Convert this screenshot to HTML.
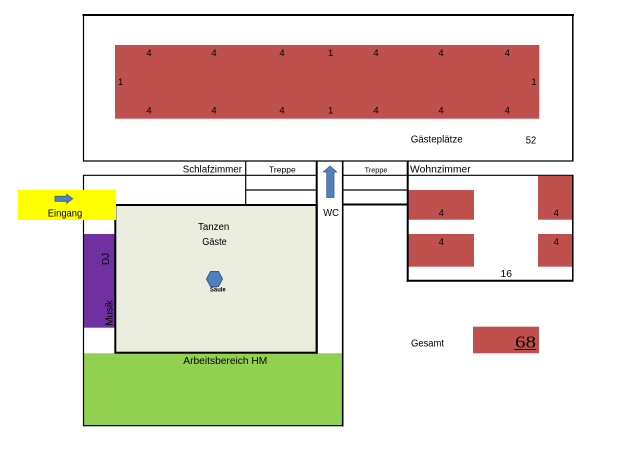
<!DOCTYPE html>
<html><head><meta charset="utf-8"><style>
html,body{margin:0;padding:0;background:#fff;}
svg{display:block;}
text{font-family:"Liberation Sans",sans-serif;fill:#000;}
</style></head><body>
<svg width="625" height="467" viewBox="0 0 625 467" xmlns="http://www.w3.org/2000/svg">
<rect x="0" y="0" width="625" height="467" fill="#fff"/>

<!-- fills -->
<rect x="115" y="45" width="424.3" height="73.7" fill="#c0504d"/>
<rect x="83.3" y="353.3" width="259.4" height="72.4" fill="#92d050"/>
<rect x="83.3" y="234" width="32" height="93.7" fill="#7030a0"/>
<rect x="115.3" y="205" width="201.4" height="147.7" fill="#ebeedf" stroke="#000" stroke-width="2"/>
<rect x="408.3" y="190" width="65.7" height="29.7" fill="#c0504d"/>
<rect x="408.3" y="234" width="65.7" height="32.7" fill="#c0504d"/>
<rect x="538" y="176" width="34.8" height="43.7" fill="#c0504d"/>
<rect x="538" y="234" width="34.8" height="32.7" fill="#c0504d"/>
<rect x="473" y="326.7" width="66" height="26.6" fill="#c0504d"/>

<!-- thin lines -->
<g stroke="#000" fill="none">
  <line x1="82.5" y1="15" x2="574" y2="15" stroke-width="2"/>
  <line x1="83.5" y1="14" x2="83.5" y2="161" stroke-width="1.2"/>
  <line x1="572.8" y1="14" x2="572.8" y2="161" stroke-width="1.5"/>
  <line x1="83" y1="161" x2="573.5" y2="161" stroke-width="1.2"/>
  <line x1="83" y1="175.3" x2="317" y2="175.3" stroke-width="1.2"/>
  <line x1="343" y1="175.3" x2="573.5" y2="175.3" stroke-width="1.2"/>
  <line x1="83.5" y1="175" x2="83.5" y2="426" stroke-width="1.2"/>
  <line x1="245.7" y1="161" x2="245.7" y2="205" stroke-width="1.2"/>
  <line x1="245.7" y1="190" x2="317" y2="190" stroke-width="1.2"/>
  <line x1="343" y1="190" x2="408" y2="190" stroke-width="1.2"/>
  <line x1="342.7" y1="161" x2="342.7" y2="426.5" stroke-width="1.6"/>
  <line x1="83" y1="425.6" x2="343.5" y2="425.6" stroke-width="1.3"/>
  <line x1="572.8" y1="175" x2="572.8" y2="281.5" stroke-width="1.5"/>
  <!-- thick -->
  <line x1="316.7" y1="161" x2="316.7" y2="353.7" stroke-width="2"/>
  <line x1="343" y1="204.5" x2="408.5" y2="204.5" stroke-width="2"/>
  <line x1="407.7" y1="161" x2="407.7" y2="281.7" stroke-width="2"/>
  <line x1="406.7" y1="280.7" x2="573.5" y2="280.7" stroke-width="2"/>
</g>

<!-- yellow entrance over line -->
<rect x="18" y="190" width="98" height="30" fill="#ffff00"/>
<polygon points="55,196.3 66.7,196.3 66.7,194.3 72.7,198.8 66.7,203.3 66.7,201.3 55,201.3" fill="#4f81bd" stroke="#385d8a" stroke-width="0.8"/>

<!-- WC arrow -->
<polygon points="330,166 336.7,172 334,172 334,197.5 326.7,197.5 326.7,172 323.3,172" fill="#4f81bd" stroke="#385d8a" stroke-width="0.8"/>

<!-- pillar -->
<polygon points="206.5,279 210.5,271.5 218.5,271.5 222.5,279 218.5,286.5 210.5,286.5" fill="#4f81bd" stroke="#385d8a" stroke-width="1"/>

<!-- top table numbers -->
<g font-size="9.5" text-anchor="middle">
  <text x="149" y="56">4</text>
  <text x="214" y="56">4</text>
  <text x="282" y="56">4</text>
  <text x="330.7" y="56">1</text>
  <text x="376" y="56">4</text>
  <text x="441" y="56">4</text>
  <text x="507.3" y="56">4</text>
  <text x="149" y="113.7">4</text>
  <text x="214" y="113.7">4</text>
  <text x="282" y="113.7">4</text>
  <text x="330.7" y="113.7">1</text>
  <text x="376" y="113.7">4</text>
  <text x="441" y="113.7">4</text>
  <text x="507.3" y="113.7">4</text>
  <text x="120.7" y="85">1</text>
  <text x="534" y="85">1</text>
  <text x="441.3" y="216">4</text>
  <text x="441.3" y="245">4</text>
  <text x="556.3" y="216">4</text>
  <text x="556.3" y="245">4</text>
</g>

<g font-size="10">
  <text x="410.7" y="142.7" textLength="52" lengthAdjust="spacingAndGlyphs">Gästeplätze</text>
  <text x="525.7" y="143.3" textLength="10.5" lengthAdjust="spacingAndGlyphs">52</text>
  <text x="182.7" y="172.3" textLength="59.3" lengthAdjust="spacingAndGlyphs">Schlafzimmer</text>
  <text x="269" y="172.3" font-size="8" textLength="26.7" lengthAdjust="spacingAndGlyphs">Treppe</text>
  <text x="364.7" y="172.3" font-size="7" textLength="22.7" lengthAdjust="spacingAndGlyphs">Treppe</text>
  <text x="410" y="172.3" textLength="60.7" lengthAdjust="spacingAndGlyphs">Wohnzimmer</text>
  <text x="323.3" y="216" textLength="15.7" lengthAdjust="spacingAndGlyphs">WC</text>
  <text x="47.7" y="216.7" textLength="34.6" lengthAdjust="spacingAndGlyphs">Eingang</text>
  <text x="198" y="230" textLength="31.3" lengthAdjust="spacingAndGlyphs">Tanzen</text>
  <text x="202.3" y="245" textLength="24.4" lengthAdjust="spacingAndGlyphs">Gäste</text>
  <text x="210" y="291.7" font-size="6.5" font-weight="bold" textLength="15.7" lengthAdjust="spacingAndGlyphs">Säule</text>
  <text x="183.3" y="364" textLength="84" lengthAdjust="spacingAndGlyphs">Arbeitsbereich HM</text>
  <text x="500.5" y="277" textLength="11.5" lengthAdjust="spacingAndGlyphs">16</text>
  <text x="411" y="346.7" textLength="33" lengthAdjust="spacingAndGlyphs">Gesamt</text>
  <text transform="translate(109,259) rotate(-90)" text-anchor="middle">DJ</text>
  <text transform="translate(112.7,312.8) rotate(-90)" text-anchor="middle" textLength="25.7" lengthAdjust="spacingAndGlyphs">Musik</text>
</g>

<text x="515" y="347.3" font-family="Liberation Serif, serif" font-size="16.5" textLength="21" lengthAdjust="spacingAndGlyphs" style="font-family:'Liberation Serif',serif">68</text>
<line x1="514.3" y1="349.5" x2="536.3" y2="349.5" stroke="#000" stroke-width="1"/>
</svg>
</body></html>
